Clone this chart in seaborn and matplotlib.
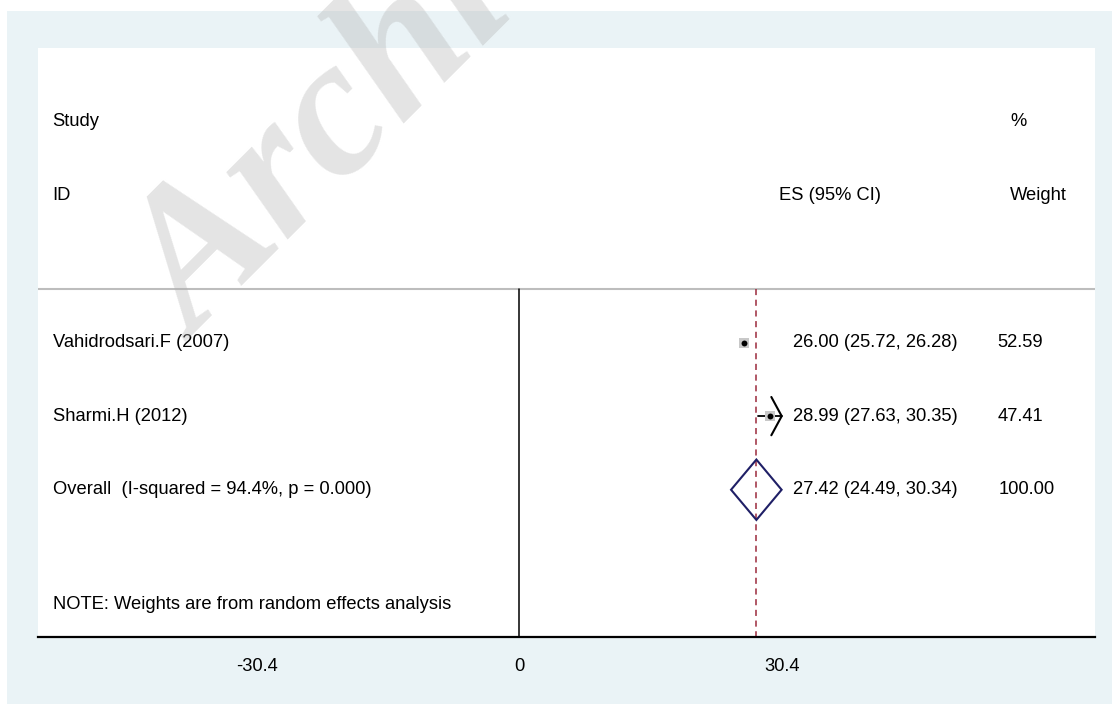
import matplotlib.pyplot as plt
import matplotlib.patches as mpatches
import seaborn as sns

# ===============================
# DATA
# ===============================
studies = ["Vahidrodsari.F (2007)", "Sharmi.H (2012)"]
es = [26.00, 28.99]
ci_low = [25.72, 27.63]
ci_high = [26.28, 30.35]
weights = [52.59, 47.41]

overall_label = "Overall  (I-squared = 94.4%, p = 0.000)"
overall_es = 27.42
overall_low = 24.49
overall_high = 30.34
overall_weight = 100.00

tick_values = [-30.4, 0, 30.4]
tick_labels = ["-30.4", "0", "30.4"]
note = "NOTE: Weights are from random effects analysis"

# ===============================
# STYLE
# ===============================
sns.set_style("white")
plt.rcParams["font.family"] = ["Liberation Sans", "DejaVu Sans"]
plt.rcParams["text.color"] = "black"
plt.rcParams["xtick.color"] = "black"

W, H = 1112, 704
fig = plt.figure(figsize=(W / 100, H / 100), dpi=100)
fig.patch.set_facecolor("white")
fig.patches.append(mpatches.Rectangle((7 / W, 0), 1 - 7 / W, 1 - 11 / H,
                                      transform=fig.transFigure,
                                      facecolor="#eaf3f6", edgecolor="none", zorder=-5))

ax = fig.add_axes([38 / W, (H - 637) / H, (1095 - 38) / W, (637 - 48) / H])
ax.set_facecolor("white")
ax.set_xlim(-55.7, 66.6)
ax.set_ylim(5, -3)

fs = 13.2
line_y = 0.28
rows = list(range(1, len(studies) + 1))
overall_row = len(studies) + 1
x_name = -54
x_es = 31.6
x_wt = 55.3

# headers
ax.text(x_name, -2, "Study", fontsize=fs, va="center")
ax.text(x_name, -1, "ID", fontsize=fs, va="center")
ax.text(x_es - 1.6, -1, "ES (95% CI)", fontsize=fs, va="center")
ax.text(x_wt + 1.5, -2, "%", fontsize=fs, va="center")
ax.text(x_wt + 1.5, -1, "Weight", fontsize=fs, va="center")

# separator line, null line, overall line
ax.axhline(line_y, color="#bdbdbd", lw=1.5, zorder=1)
ax.plot([0, 0], [line_y, 5], color="black", lw=1.1, zorder=2)
ax.plot([overall_es, overall_es], [line_y, 5], color="#9b2a3c", lw=1.1,
        dashes=(4, 3), zorder=2)

# study rows
for r, name, e, lo, hi, w in zip(rows, studies, es, ci_low, ci_high, weights):
    ax.text(x_name, r, name, fontsize=fs, va="center")
    ax.text(x_es, r, f"{e:.2f} ({lo:.2f}, {hi:.2f})", fontsize=fs, va="center")
    ax.text(x_wt, r, f"{w:.2f}", fontsize=fs, va="center")
    ax.plot([lo, hi], [r, r], color="black", lw=1.3, zorder=3)
    ax.scatter([e], [r], marker="s", s=w * 0.9, color="#c8c8c8", zorder=3, linewidths=0)
    ax.scatter([e], [r], marker="o", s=18, color="black", zorder=4, linewidths=0)
    if hi > 30:
        ax.plot([hi - 1.2, hi, hi - 1.2], [r - 0.26, r, r + 0.26], color="black",
                lw=1.5, zorder=4)

# overall
ax.text(x_name, overall_row, overall_label, fontsize=fs, va="center")
ax.text(x_es, overall_row, f"{overall_es:.2f} ({overall_low:.2f}, {overall_high:.2f})",
        fontsize=fs, va="center")
ax.text(x_wt + 0.1, overall_row, f"{overall_weight:.2f}", fontsize=fs, va="center")
ax.fill([overall_low, overall_es, overall_high, overall_es],
        [overall_row, overall_row - 0.41, overall_row, overall_row + 0.41],
        facecolor="none", edgecolor="#1f1f66", lw=1.5, zorder=5)

ax.text(x_name, 4.56, note, fontsize=fs, va="center")

# axes
for s in ["top", "left", "right"]:
    ax.spines[s].set_visible(False)
ax.spines["bottom"].set_color("black")
ax.spines["bottom"].set_linewidth(1.6)
ax.set_yticks([])
ax.set_xticks(tick_values)
ax.set_xticklabels(tick_labels, fontsize=fs)
ax.tick_params(axis="x", direction="out", length=7, width=1, color="black", pad=8)

# watermark
fig.text(196 / W, 1 - 342 / H, "Archive of SID", fontsize=142, family="Liberation Serif",
         style="italic", weight="bold", color="#b0b0b0", alpha=0.34, rotation=45,
         rotation_mode="anchor", ha="left", va="baseline", zorder=10)

plt.savefig("out.png", dpi=100)
plt.close()
